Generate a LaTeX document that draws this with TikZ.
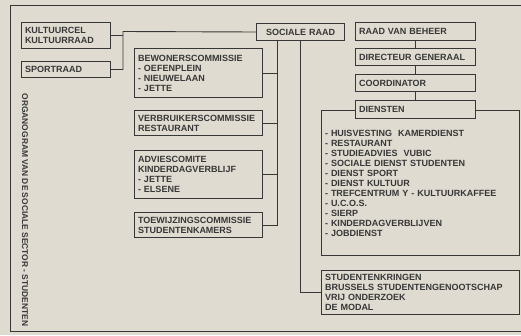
\documentclass[tikz,border=0pt]{standalone}
\usepackage{fontspec}
\setmainfont{Liberation Sans}
\definecolor{paper}{RGB}{224,219,208}
\definecolor{ink}{RGB}{55,55,55}
\begin{document}
\begin{tikzpicture}[x=1pt,y=-1pt,
  txt/.style={font=\fontsize{9}{10}\selectfont\bfseries, text=ink},
  bx/.style n args={3}{draw=ink, line width=1pt, fill=paper, rectangle,
     inner xsep=3.5pt, inner ysep=0pt, anchor=north west, align=left, txt,
     minimum width=#1, minimum height=#2, text width=#3},
  conn/.style={draw=ink, line width=0.9pt}]
\useasboundingbox (0,0) rectangle (521,335);
\fill[paper] (0,0) rectangle (521,335);
% frame
\draw[conn] (521,5) -- (10,5) -- (10,331) -- (521,331);
% title
\node[txt, font=\fontsize{8.4}{10}\selectfont\bfseries, rotate=-90] (title) at (25,210) {ORGANOGRAM VAN DE SOCIALE SECTOR - STUDENTEN};
% left boxes
\node[bx={89}{26}{82}] (kult) at (21,22) {KULTUURCEL\\KULTUURRAAD};
\node[bx={89}{16}{82}] (sport) at (21,61) {SPORTRAAD};
\node[bx={88}{17}{81}, align=center] (soc) at (256,23) {SOCIALE RAAD};
\node[bx={128}{49}{121}] (bew) at (134,48) {BEWONERSCOMMISSIE\\- OEFENPLEIN\\- NIEUWELAAN\\- JETTE};
\node[bx={128}{25}{121}] (verb) at (134,110) {VERBRUIKERSCOMMISSIE\\RESTAURANT};
\node[bx={128}{48}{121}] (adv) at (134,150) {ADVIESCOMITE\\KINDERDAGVERBLIJF\\- JETTE\\- ELSENE};
\node[bx={128}{25}{121}] (toew) at (134,212) {TOEWIJZINGSCOMMISSIE\\STUDENTENKAMERS};
% right boxes
\node[bx={120}{18}{113}] (raad) at (355,22) {RAAD VAN BEHEER};
\node[bx={120}{17}{113}] (dir) at (355,48) {DIRECTEUR GENERAAL};
\node[bx={120}{17}{113}] (coord) at (355,74) {COORDINATOR};
\node[bx={198}{145}{191}] (lijst) at (321,110) {- HUISVESTING\ \ KAMERDIENST\\- RESTAURANT\\- STUDIEADVIES\ \ VUBIC\\- SOCIALE DIENST STUDENTEN\\- DIENST SPORT\\- DIENST KULTUUR\\- TREFCENTRUM Y - KULTUURKAFFEE\\- U.C.O.S.\\- SIERP\\- KINDERDAGVERBLIJVEN\\- JOBDIENST};
\node[bx={120}{18}{113}] (dien) at (355,100) {DIENSTEN};
\node[bx={198}{44}{191}] (kring) at (321,270) {STUDENTENKRINGEN\\BRUSSELS STUDENTENGENOOTSCHAP\\VRIJ ONDERZOEK\\DE MODAL};
% connectors
\coordinate (j1) at (123,31.5);
\draw[conn] (soc.west) -- (j1) |- (sport.east);
\draw[conn] (kult.east) -- (kult.east -| j1);
\coordinate (j2) at (277,40);
\draw[conn] (j2) |- (toew.east);
\draw[conn] (bew.east) -- (bew.east -| j2);
\draw[conn] (verb.east) -- (verb.east -| j2);
\draw[conn] (adv.east) -- (adv.east -| j2);
\draw[conn] (soc.south) |- (kring.west);
\draw[conn] (raad.south) -- (dir.north);
\draw[conn] (dir.south) -- (coord.north);
\draw[conn] (coord.south) -- (dien.north);
\end{tikzpicture}
\end{document}
